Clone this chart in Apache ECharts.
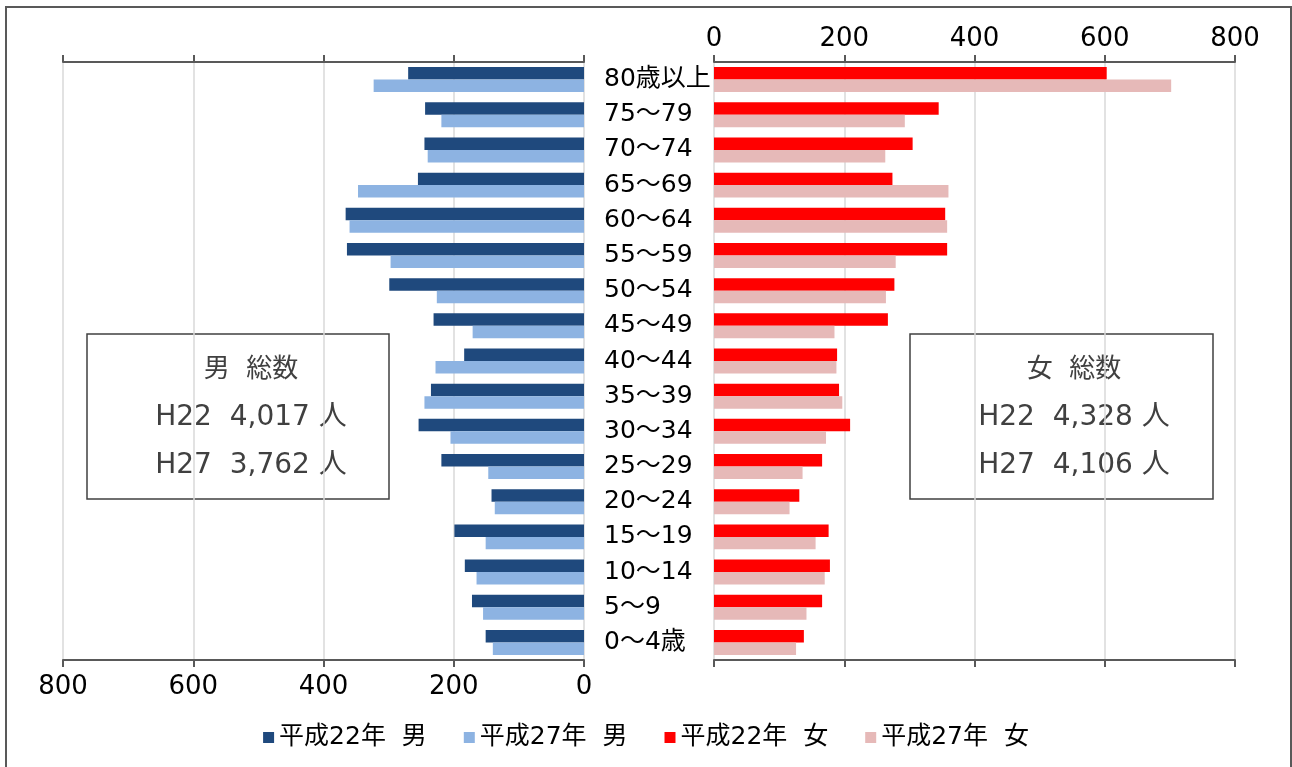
<!DOCTYPE html>
<html lang="ja">
<head>
<meta charset="utf-8">
<title>人口ピラミッド</title>
<script src="https://cdn.jsdelivr.net/npm/echarts@6/dist/echarts.min.js"></script>
<style>
  html, body { margin: 0; padding: 0; background: #fff; }
  #chart { width: 1292px; height: 767px; }
</style>
</head>
<body>
<div id="chart"></div>
<script>
// 年齢階級（上から順）
const ageGroups = ['80歳以上', '75～79', '70～74', '65～69', '60～64', '55～59', '50～54',
  '45～49', '40～44', '35～39', '30～34', '25～29', '20～24', '15～19', '10～14', '5～9', '0～4歳'];

// 男（人）
const maleH22 = [270, 244, 245, 255, 366, 364, 299, 231, 184, 235, 254, 219, 142, 199, 183, 172, 151];
const maleH27 = [323, 219, 240, 347, 360, 297, 226, 171, 228, 245, 205, 147, 137, 151, 165, 155, 140];

// 女（人）
const femaleH22 = [603, 345, 305, 274, 355, 358, 277, 267, 189, 192, 209, 166, 131, 176, 178, 166, 138];
const femaleH27 = [702, 293, 263, 360, 358, 279, 264, 185, 188, 197, 172, 136, 116, 156, 170, 142, 126];

// 凡例・総数
const seriesNames = ['平成22年  男', '平成27年  男', '平成22年  女', '平成27年  女'];
const maleTotals = ['男  総数', 'H22  4,017 人', 'H27  3,762 人'];
const femaleTotals = ['女  総数', 'H22  4,328 人', 'H27  4,106 人'];

const axisMax = 800;
const axisStep = 200;

const NUM_FONT = "'DejaVu Sans', 'Noto Sans CJK JP', sans-serif";
const AXIS_COLOR = '#595959';
const GRID_COLOR = '#d9d9d9';

const chart = echarts.init(document.getElementById('chart'), null, { renderer: 'canvas' });

function valueAxis(gridIndex, position, opts) {
  return Object.assign({
    type: 'value',
    gridIndex: gridIndex,
    position: position,
    min: 0,
    max: axisMax,
    interval: axisStep,
    axisLine: { show: true, lineStyle: { color: AXIS_COLOR, width: 2 } },
    axisTick: { show: true, length: 7, lineStyle: { color: AXIS_COLOR, width: 2 } },
    axisLabel: { show: false },
    splitLine: { show: false }
  }, opts);
}

const topLabel = { color: '#000', fontSize: 26, fontFamily: NUM_FONT, margin: 10 };
const bottomLabel = { color: '#000', fontSize: 26, fontFamily: NUM_FONT, margin: 14 };
const splitStyle = { show: true, lineStyle: { color: GRID_COLOR, width: 1.5 } };

function totalsBox(x, y, w, h, cx, lines) {
  const children = [{
    type: 'rect',
    shape: { x: x, y: y, width: w, height: h },
    style: { fill: '#fff', stroke: '#404040', lineWidth: 1.5 }
  }];
  const ys = [370, 418, 466];
  lines.forEach(function (t, i) {
    children.push({
      type: 'text',
      x: cx, y: ys[i],
      style: {
        text: t, fill: '#404040', fontSize: i === 0 ? 26 : 28, fontFamily: NUM_FONT,
        textAlign: 'center', textVerticalAlign: 'middle'
      }
    });
  });
  return { type: 'group', children: children, z: 100 };
}

const option = {
  animation: false,
  backgroundColor: '#fff',
  grid: [
    { left: 63, top: 62, width: 521, height: 598 },
    { left: 714, top: 62, width: 521, height: 598 }
  ],
  xAxis: [
    valueAxis(0, 'bottom', { inverse: true, axisLabel: bottomLabel, splitLine: splitStyle }),
    valueAxis(0, 'top', { inverse: true }),
    valueAxis(1, 'top', { axisLabel: topLabel, splitLine: splitStyle }),
    valueAxis(1, 'bottom', {})
  ],
  yAxis: [
    {
      type: 'category', gridIndex: 0, data: ageGroups, inverse: true,
      axisLine: { show: false }, axisTick: { show: false }, axisLabel: { show: false }
    },
    {
      type: 'category', gridIndex: 1, data: ageGroups, inverse: true,
      axisLine: { show: false }, axisTick: { show: false },
      axisLabel: {
        color: '#000', fontSize: 25, fontFamily: NUM_FONT, align: 'left', margin: 110,
        padding: [6, 0, 0, 0]
      }
    }
  ],
  legend: {
    bottom: 12,
    left: 'center',
    icon: 'rect',
    itemWidth: 11,
    itemHeight: 11,
    itemGap: 37,
    textStyle: { color: '#000', fontSize: 25, fontFamily: NUM_FONT },
    data: seriesNames
  },
  series: [
    { name: seriesNames[0], type: 'bar', xAxisIndex: 0, yAxisIndex: 0, data: maleH22,
      itemStyle: { color: '#1f497d' }, barGap: '0%', barCategoryGap: '29%' },
    { name: seriesNames[1], type: 'bar', xAxisIndex: 0, yAxisIndex: 0, data: maleH27,
      itemStyle: { color: '#8db3e2' }, barGap: '0%', barCategoryGap: '29%' },
    { name: seriesNames[2], type: 'bar', xAxisIndex: 2, yAxisIndex: 1, data: femaleH22,
      itemStyle: { color: '#ff0000' }, barGap: '0%', barCategoryGap: '29%' },
    { name: seriesNames[3], type: 'bar', xAxisIndex: 2, yAxisIndex: 1, data: femaleH27,
      itemStyle: { color: '#e6b9b8' }, barGap: '0%', barCategoryGap: '29%' }
  ],
  graphic: [
    {
      type: 'rect', z: 0, silent: true,
      shape: { x: 6, y: 7, width: 1285, height: 775 },
      style: { fill: 'none', stroke: '#595959', lineWidth: 2 }
    },
    totalsBox(87, 334, 302, 165, 251, maleTotals),
    totalsBox(910, 334, 303, 165, 1074, femaleTotals)
  ]
};

chart.setOption(option);
</script>
</body>
</html>
